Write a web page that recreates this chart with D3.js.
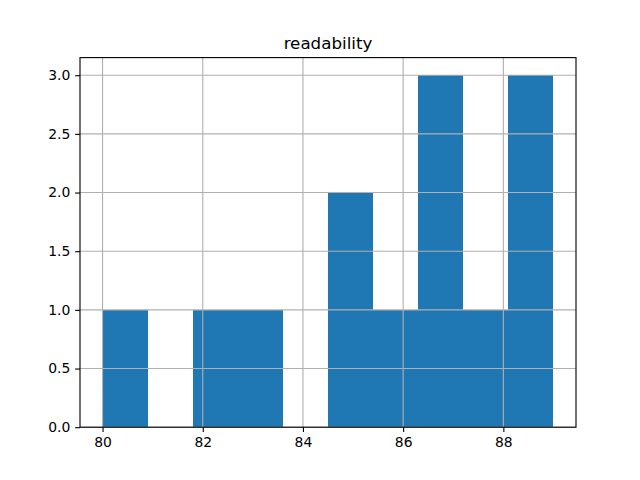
<!DOCTYPE html>
<html><head><meta charset="utf-8">
<script src="https://cdn.jsdelivr.net/npm/d3@7"></script>
<style>body{margin:0;background:#fff}svg{display:block}text{font-family:"DejaVu Sans",sans-serif}</style>
</head><body><svg id="c" width="640" height="480"></svg>
<script>
const title = "readability";
const binEdges = [80, 80.9, 81.8, 82.7, 83.6, 84.5, 85.4, 86.3, 87.2, 88.1, 89];
const counts = [1, 0, 1, 1, 0, 2, 1, 3, 1, 3];
const xTicks = [80, 82, 84, 86, 88];
const yTicks = [0, 0.5, 1.0, 1.5, 2.0, 2.5, 3.0];

const svg = d3.select("#c");
const L = 80, R = 576, T = 57.6, B = 427.2;
const x = d3.scaleLinear().domain([79.55, 89.45]).range([L, R]);
const y = d3.scaleLinear().domain([0, 3.15]).range([B, T]);

const bins = counts.map((c, i) => ({x0: binEdges[i], x1: binEdges[i + 1], c}));
svg.append("g").attr("shape-rendering", "crispEdges").selectAll("rect").data(bins).join("rect")
  .attr("x", d => x(d.x0)).attr("width", d => x(d.x1) - x(d.x0))
  .attr("y", d => y(d.c)).attr("height", d => y(0) - y(d.c))
  .attr("fill", "#1f77b4");

const lw = 1.11;
const grid = svg.append("g").attr("stroke", "#b0b0b0").attr("stroke-width", lw);
xTicks.forEach(t => grid.append("line").attr("x1", x(t)).attr("x2", x(t)).attr("y1", T).attr("y2", B));
yTicks.forEach(t => grid.append("line").attr("x1", L).attr("x2", R).attr("y1", y(t)).attr("y2", y(t)));

const xAxis = d3.axisBottom(x).tickValues(xTicks).tickSize(4.86).tickPadding(4.86).tickFormat(d3.format("d"));
const gx = svg.append("g").attr("transform", `translate(0,${B})`).call(xAxis);
const yAxis = d3.axisLeft(y).tickValues(yTicks).tickSize(4.86).tickPadding(4.86).tickFormat(d3.format(".1f"));
const gy = svg.append("g").attr("transform", `translate(${L},0)`).call(yAxis);
[gx, gy].forEach(g => {
  g.select(".domain").remove();
  g.selectAll("line").attr("stroke", "#000").attr("stroke-width", lw);
  g.selectAll("text").attr("font-size", 13.9).attr("fill", "#000").attr("font-family", "DejaVu Sans");
});

svg.append("rect").attr("x", L).attr("y", T).attr("width", R - L).attr("height", B - T)
  .attr("fill", "none").attr("stroke", "#000").attr("stroke-width", lw);

svg.append("text").attr("x", (L + R) / 2).attr("y", T - 8.3).attr("text-anchor", "middle")
  .attr("font-size", 16.7).attr("fill", "#000").text(title);
</script></body></html>
